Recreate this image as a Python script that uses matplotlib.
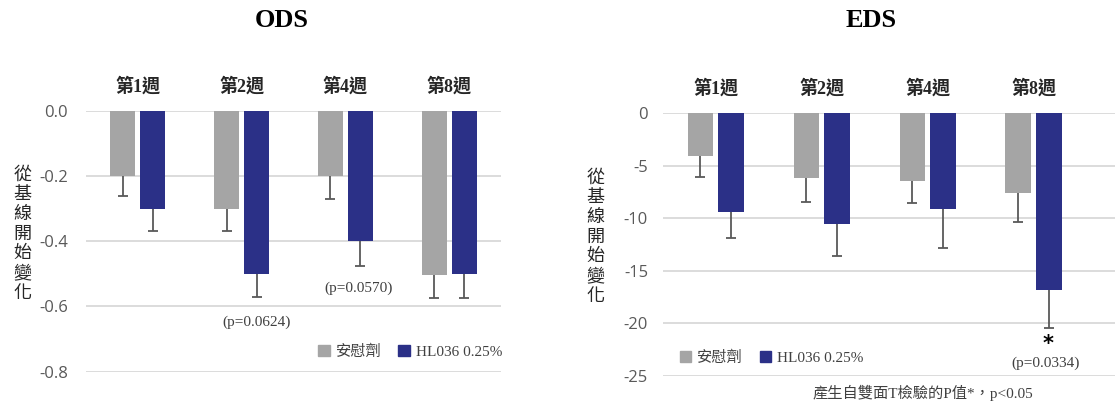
import numpy as np
import matplotlib.pyplot as plt

# 數據
weeks = ['第1週', '第2週', '第4週', '第8週']
series = ['安慰劑', 'HL036 0.25%']

ods_placebo = [-0.20, -0.30, -0.20, -0.505]
ods_placebo_err = [0.06, 0.068, 0.07, 0.07]
ods_hl036 = [-0.30, -0.50, -0.40, -0.50]
ods_hl036_err = [0.07, 0.07, 0.075, 0.075]

eds_placebo = [-4.1, -6.2, -6.4, -7.6]
eds_placebo_err = [2.0, 2.2, 2.1, 2.7]
eds_hl036 = [-9.4, -10.5, -9.1, -16.8]
eds_hl036_err = [2.5, 3.1, 3.7, 3.6]

ods_ticks = [0.0, -0.2, -0.4, -0.6, -0.8]
ods_ticklabels = ['0.0', '-0.2', '-0.4', '-0.6', '-0.8']
eds_ticks = [0, -5, -10, -15, -20, -25]
eds_ticklabels = ['0', '-5', '-10', '-15', '-20', '-25']

GRAY = '#a5a5a5'
NAVY = '#2b3087'
ERR = '#595959'
SERIF_CJK = ['Liberation Serif', 'Noto Sans CJK TC']
CJK = ['Noto Sans CJK TC', 'DejaVu Sans']

fig = plt.figure(figsize=(11.15, 4.03), dpi=100)


def draw_panel(ax, placebo, p_err, hl, h_err, ticks, ticklabels, ylim, xlim, tick_pad):
    x = np.arange(len(weeks))
    w = 0.24
    off = 0.145
    for vals, errs, col, pos in [(placebo, p_err, GRAY, x - off), (hl, h_err, NAVY, x + off)]:
        vals = np.array(vals)
        errs = np.array(errs)
        ax.bar(pos, vals, width=w, color=col, zorder=3)
        ax.errorbar(pos, vals, yerr=[errs, np.zeros_like(errs)], fmt='none',
                    ecolor=ERR, elinewidth=1.3, capsize=0, zorder=4)
        ax.plot(pos, vals - errs, linestyle='none', marker='_', markersize=7,
                markeredgewidth=1.3, color=ERR, zorder=4)
    ax.set_ylim(*ylim)
    ax.set_xlim(*xlim)
    ax.set_yticks(ticks)
    ax.set_yticklabels(ticklabels, fontfamily='Open Sans', fontsize=12, color='#595959')
    ax.yaxis.grid(True, color='#d9d9d9', linewidth=1.3, zorder=0)
    ax.set_axisbelow(True)
    ax.xaxis.tick_top()
    ax.set_xticks(x)
    ax.set_xticklabels(weeks, fontfamily=SERIF_CJK, fontweight='bold', fontsize=13, color='#262626')
    ax.tick_params(axis='x', length=0, pad=11)
    ax.tick_params(axis='y', length=0, pad=tick_pad)
    for s in ax.spines.values():
        s.set_visible(False)


# 左：ODS
ax1 = fig.add_axes([0.0771, 0.0777, 0.3722, 0.6476])
draw_panel(ax1, ods_placebo, ods_placebo_err, ods_hl036, ods_hl036_err,
           ods_ticks, ods_ticklabels, (-0.8, 0.0), (-0.5, 3.5), 13)
ax1.text(1.145, -0.647, '(p=0.0624)', ha='center', va='center', fontsize=11,
         fontfamily='Liberation Serif', color='#404040')
ax1.text(2.13, -0.543, '(p=0.0570)', ha='center', va='center', fontsize=11,
         fontfamily='Liberation Serif', color='#404040')

# 右：EDS
ax2 = fig.add_axes([0.5949, 0.0670, 0.4051, 0.6519])
draw_panel(ax2, eds_placebo, eds_placebo_err, eds_hl036, eds_hl036_err,
           eds_ticks, eds_ticklabels, (-25, 0), (-0.496, 3.77), 11)
ax2.text(3.137, -22.0, '*', ha='center', va='center', fontsize=15,
         fontweight='bold', color='black')
ax2.text(3.11, -23.75, '(p=0.0334)', ha='center', va='center', fontsize=11,
         fontfamily='Liberation Serif', color='#404040')

# 標題
fig.text(0.253, 0.95, 'ODS', ha='center', va='center', fontsize=19,
         fontweight='bold', fontfamily='Liberation Serif')
fig.text(0.781, 0.95, 'EDS', ha='center', va='center', fontsize=19,
         fontweight='bold', fontfamily='Liberation Serif')

# 縱軸標籤（直排）
ylab = '\n'.join('從基線開始變化')
fig.text(0.020, 0.42, ylab, ha='center', va='center', fontsize=13,
         fontfamily=CJK, color='#262626', linespacing=1.12)
fig.text(0.534, 0.413, ylab, ha='center', va='center', fontsize=13,
         fontfamily=CJK, color='#262626', linespacing=1.12)

# 圖例
for ax, anchor in [(ax1, (0.368, 0.127)), (ax2, (0.692, 0.112))]:
    handles = [plt.Rectangle((0, 0), 1, 1, color=GRAY), plt.Rectangle((0, 0), 1, 1, color=NAVY)]
    fig.legend(handles, series, loc='center', bbox_to_anchor=anchor, ncol=2,
               frameon=False, handlelength=0.75, handleheight=0.75, handletextpad=0.4,
               columnspacing=1.1, prop={'family': SERIF_CJK, 'size': 11},
               labelcolor='#404040')

# 註腳
fig.text(0.828, 0.025, '產生自雙面T檢驗的P值*，p<0.05', ha='center', va='center',
         fontsize=11, fontfamily=SERIF_CJK, color='#404040')

fig.savefig('out.png', dpi=100, facecolor='white')
